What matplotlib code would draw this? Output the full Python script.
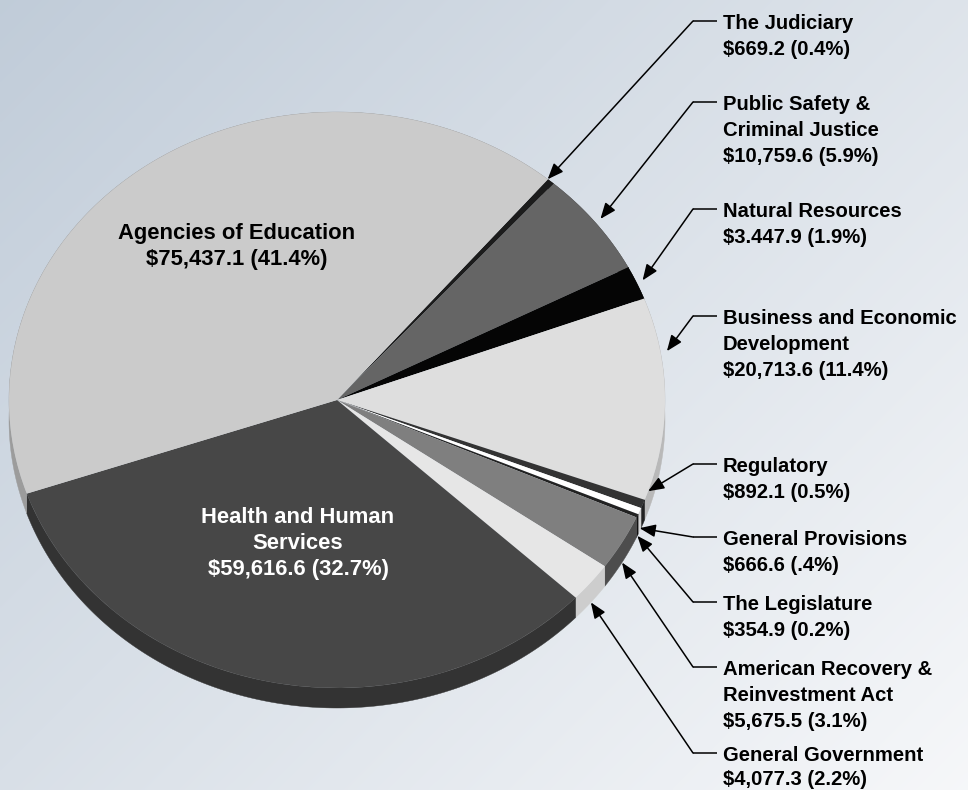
import numpy as np
import matplotlib
matplotlib.use("Agg")
import matplotlib.pyplot as plt
from matplotlib.patches import Polygon

# ---------------- data (clockwise from the Judiciary) ----------------
categories = ["The Judiciary", "Public Safety & Criminal Justice", "Natural Resources",
              "Business and Economic Development", "Regulatory", "General Provisions",
              "The Legislature", "American Recovery & Reinvestment Act",
              "General Government", "Health and Human Services", "Agencies of Education"]
values = [669.2, 10759.6, 3447.9, 20713.6, 892.1, 666.6, 354.9, 5675.5, 4077.3,
          59616.6, 75437.1]
label_lines = [
    ["The Judiciary", "$669.2 (0.4%)"],
    ["Public Safety &", "Criminal Justice", "$10,759.6 (5.9%)"],
    ["Natural Resources", "$3.447.9 (1.9%)"],
    ["Business and Economic", "Development", "$20,713.6 (11.4%)"],
    ["Regulatory", "$892.1 (0.5%)"],
    ["General Provisions", "$666.6 (.4%)"],
    ["The Legislature", "$354.9 (0.2%)"],
    ["American Recovery &", "Reinvestment Act", "$5,675.5 (3.1%)"],
    ["General Government", "$4,077.3 (2.2%)"],
    ["Health and Human", "Services", "$59,616.6 (32.7%)"],
    ["Agencies of Education", "$75,437.1 (41.4%)"],
]

# ---------------- styles ----------------
top_colors = ["#1c1c1c", "#656565", "#050505", "#dedede", "#333333", "#ffffff",
              "#222222", "#7f7f7f", "#e6e6e6", "#474747", "#cbcbcb"]
side_colors = ["#111111", "#444444", "#000000", "#b9b9b9", "#222222", "#d2d2d2",
               "#111111", "#4d4d4d", "#cdcdcd", "#333333", "#9c9c9c"]

W, H = 968, 790
FONT = "Liberation Sans"

fig = plt.figure(figsize=(W / 100, H / 100), dpi=100)

# background gradient
bg = fig.add_axes([0, 0, 1, 1])
bg.set_axis_off()
yy, xx = np.mgrid[0:H:2, 0:W:2]
t = 0.55 * xx / W + 0.45 * yy / H
c0 = np.array([0.755, 0.800, 0.850])
c1 = np.array([0.965, 0.970, 0.978])
img = c0[None, None, :] + (c1 - c0)[None, None, :] * t[:, :, None]
bg.imshow(img, extent=[0, W, H, 0], aspect="auto", interpolation="bilinear")
bg.set_xlim(0, W)
bg.set_ylim(H, 0)

# pie geometry (pixels of the image)
cx, cy, rx, ry, depth_px = 337, 400, 328, 288, 20
d = depth_px / ry
ax = fig.add_axes([(cx - rx) / W, (H - (cy + ry + depth_px)) / H,
                   2 * rx / W, (2 * ry + depth_px) / H])
ax.set_axis_off()

wedges, _ = ax.pie(values, colors=top_colors, startangle=50, counterclock=False,
                   radius=1, wedgeprops=dict(linewidth=0))
ax.set_aspect("auto")
ax.set_xlim(-1, 1)
ax.set_ylim(-1 - d, 1)

# side faces (cylinder depth)
for w, sc in zip(wedges, side_colors):
    th = np.radians(np.linspace(w.theta1, w.theta2, 200))
    xs = np.cos(th)
    ys = np.sin(th)
    pts = np.concatenate([np.column_stack([xs, ys]),
                          np.column_stack([xs[::-1], ys[::-1] - d])])
    poly = Polygon(pts, closed=True, facecolor=sc, edgecolor=sc, linewidth=0.3,
                   zorder=0.5, clip_on=False)
    ax.add_patch(poly)
for w in wedges:
    w.set_zorder(1)

# overlay axes in image pixel coordinates
ov = fig.add_axes([0, 0, 1, 1], facecolor="none")
ov.set_axis_off()
ov.set_xlim(0, W)
ov.set_ylim(H, 0)

fs_out = 14.6
fs_in = 15.8

# outer labels: (index, connector y, line step, angle offset, radius, depth fraction)
outer = [(0, 21, 26, 0.7, 1.0, 0.0),
         (1, 102, 26, 0.0, 1.02, 0.0),
         (2, 209, 26, 0.0, 1.02, 0.0),
         (3, 316, 26, 9.4, 1.02, 0.0),
         (4, 464, 26, 2.7, 1.0, 0.0),
         (5, 537, 26, 0.0, 1.0, 0.85),
         (6, 602, 26, 0.0, 1.0, 1.0),
         (7, 667, 26, 0.0, 1.0, 1.0),
         (8, 753, 24, 0.0, 1.0, 1.0)]
elbow_x, hline_end, text_x = 693, 717, 723
for idx, ly, step, dth, rr, dfrac in outer:
    w = wedges[idx]
    mid = np.radians(0.5 * (w.theta1 + w.theta2) + dth)
    tip = (rr * np.cos(mid), rr * np.sin(mid) - dfrac * d)
    ov.annotate("", xy=tip, xycoords=ax.transData,
                xytext=(elbow_x, ly), textcoords="data",
                arrowprops=dict(arrowstyle="-|>,head_length=0.8,head_width=0.32",
                                color="black", lw=1.1, shrinkA=0, shrinkB=0,
                                mutation_scale=12))
    ov.plot([elbow_x, hline_end], [ly, ly], color="black", lw=1.1,
            solid_capstyle="butt")
    for k, s in enumerate(label_lines[idx]):
        ov.text(text_x, ly + 8 + k * step, s, fontsize=fs_out,
                fontweight="bold", family=FONT, ha="left", va="baseline",
                color="black")

# inner labels
inner = [(10, 237, 239, "black"), (9, 298, 523, "white")]
for idx, x0, y0, col in inner:
    for k, s in enumerate(label_lines[idx]):
        ov.text(x0, y0 + k * 26, s, fontsize=fs_in, fontweight="bold",
                family=FONT, ha="center", va="baseline", color=col)

fig.savefig("out.png", dpi=100)
